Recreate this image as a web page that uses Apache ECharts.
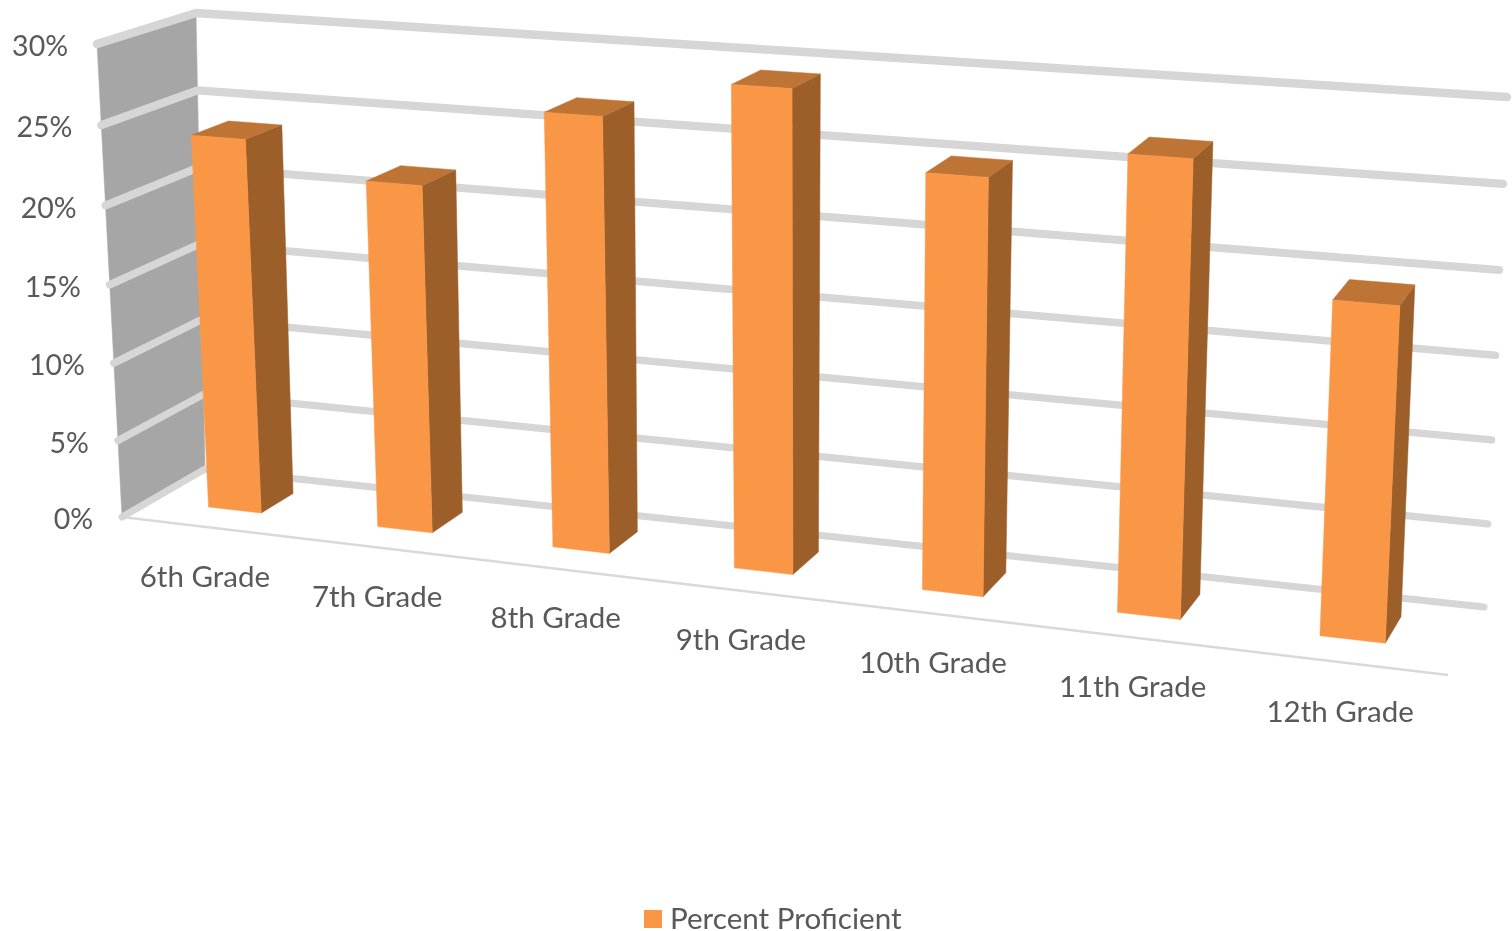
<!DOCTYPE html>
<html><head><meta charset="utf-8">
<style>html,body{margin:0;padding:0;background:#fff}#c{width:1512px;height:931px}</style>
<script src="https://cdn.jsdelivr.net/npm/echarts@6/dist/echarts.min.js"></script>
</head><body><div id="c"></div>
<script>
const categories = ['6th Grade','7th Grade','8th Grade','9th Grade','10th Grade','11th Grade','12th Grade'];
const percentProficient = [23.9, 21.9, 26.95, 29.4, 25.05, 27, 19.6];
const valueTicks = [0, 5, 10, 15, 20, 25, 30];
const seriesName = 'Percent Proficient';

// Perspective camera: the chart's axis plane seen as a front and a back quad
const frontQuad = [[122,517],[1448,675],[1475,140],[97,44]];
const backQuad  = [[205,469],[1484,607],[1507,97],[196,13]];
const barDepth = [0.34, 0.735];
const barFill = 0.315;
const barShift = -0.002;
const barFloorShear = 4;
const FONT = 'Lato';
const TXT = '#595959';

function quadMap(q){
  const [[x0,y0],[x1,y1],[x2,y2],[x3,y3]] = q;
  const dx1=x1-x2, dx2=x3-x2, sx=x0-x1+x2-x3, dy1=y1-y2, dy2=y3-y2, sy=y0-y1+y2-y3;
  const den=dx1*dy2-dx2*dy1;
  const g=(sx*dy2-dx2*sy)/den, h=(dx1*sy-sx*dy1)/den;
  const a=x1-x0+g*x1, b=x3-x0+h*x3, d=y1-y0+g*y1, e=y3-y0+h*y3;
  return (u,v)=>{const w=g*u+h*v+1;return [(a*u+b*v+x0)/w,(d*u+e*v+y0)/w];};
}
const F = quadMap(frontQuad), B = quadMap(backQuad);
function project(u,v,t){
  const f=F(u,v), b=B(u,v);
  return [f[0]+(b[0]-f[0])*t, f[1]+(b[1]-f[1])*t];
}
function projectBar(u,v,t){
  const q=project(u,v,t);
  return [q[0]+barFloorShear*(1-u)*(1-v), q[1]];
}
function unit(cs,pt){ return [(pt[0]-cs.x)/cs.width, (cs.y+cs.height-pt[1])/cs.height]; }
function poly(points,fill){
  return {type:'polygon',shape:{points},style:{fill,stroke:fill,lineWidth:0.5},silent:true};
}

const chart = echarts.init(document.getElementById('c'));
chart.setOption({
  animation:false,
  backgroundColor:'#fff',
  tooltip:{show:false},
  grid:{left:100,right:100,top:60,bottom:200},
  xAxis:{type:'category',data:categories,show:false},
  yAxis:{type:'value',min:0,max:30,interval:5,show:false},
  legend:{
    data:[{name:seriesName,icon:'rect'}],
    left:639,top:899,itemWidth:18,itemHeight:18,itemGap:9,
    textStyle:{color:TXT,fontFamily:FONT,fontSize:29.6,padding:[0,0,4,3]}
  },
  series:[
    { type:'custom',name:'wall',coordinateSystem:'cartesian2d',silent:true,
      data:[[0,valueTicks[valueTicks.length-1]]],
      renderItem(p,api){
        const cs=p.coordSys, top=unit(cs,api.coord([0,api.value(1)]))[1], bot=unit(cs,api.coord([0,api.value(0)]))[1];
        return {type:'group',children:[
          poly([project(0,bot,0),project(0,bot,1),project(0,top,1),project(0,top,0)],'#a6a6a6'),
          {type:'polyline',shape:{points:[project(0,bot,0),project(1,bot,0)]},style:{stroke:'#d9d9d9',lineWidth:2.5,fill:null},silent:true}
        ]};
      }
    },
    { type:'custom',name:'gridlines',coordinateSystem:'cartesian2d',silent:true,
      data:valueTicks.map(v=>[0,v]),
      renderItem(p,api){
        const v=unit(p.coordSys,api.coord([0,api.value(1)]))[1];
        return {type:'polyline',shape:{points:[project(0,v,0),project(0,v,1),project(1,v,1)]},
          style:{stroke:'#d6d6d6',lineWidth:8.5-0.05*(30-api.value(1)),fill:null,lineCap:'round',lineJoin:'round'},silent:true};
      }
    },
    { type:'custom',name:seriesName,coordinateSystem:'cartesian2d',silent:true,
      itemStyle:{color:'#fa9747'},
      data:percentProficient.map((v,i)=>[i,v]),
      renderItem(p,api){
        const cs=p.coordSys, c=unit(cs,api.coord([api.value(0),api.value(1)])), base=unit(cs,api.coord([api.value(0),0]))[1];
        const bw=api.size([1,0])[0]/cs.width*barFill;
        const u0=c[0]-bw/2+barShift,u1=c[0]+bw/2+barShift,v=c[1],[t0,t1]=barDepth;
        const P=projectBar;
        return {type:'group',children:[
          poly([P(u1,base,t0),P(u1,base,t1),P(u1,v,t1),P(u1,v,t0)],'#9c5f2a'),
          poly([P(u0,v,t0),P(u1,v,t0),P(u1,v,t1),P(u0,v,t1)],'#bd7434'),
          poly([P(u0,base,t0),P(u1,base,t0),P(u1,v,t0),P(u0,v,t0)],'#fa9747')
        ]};
      }
    },
    { type:'custom',name:'valueLabels',coordinateSystem:'cartesian2d',silent:true,
      data:valueTicks.map(v=>[0,v]),
      renderItem(p,api){
        const v=unit(p.coordSys,api.coord([0,api.value(1)]))[1], q=project(0,v,0);
        return {type:'text',x:q[0]-29,y:q[1]+3,silent:true,
          style:{text:api.value(1)+'%',fill:TXT,font:'28.5px '+FONT,align:'right',verticalAlign:'middle'}};
      }
    },
    { type:'custom',name:'categoryLabels',coordinateSystem:'cartesian2d',silent:true,
      data:categories.map((c,i)=>[i,0]),
      renderItem(p,api){
        const i=api.value(0), c=unit(p.coordSys,api.coord([i,0])), q=project(c[0],c[1],0);
        return {type:'text',x:q[0]-1,y:q[1]+50,silent:true,
          style:{text:categories[i],fill:TXT,font:'29.5px '+FONT,align:'center',verticalAlign:'middle'}};
      }
    }
  ]
});
</script></body></html>
